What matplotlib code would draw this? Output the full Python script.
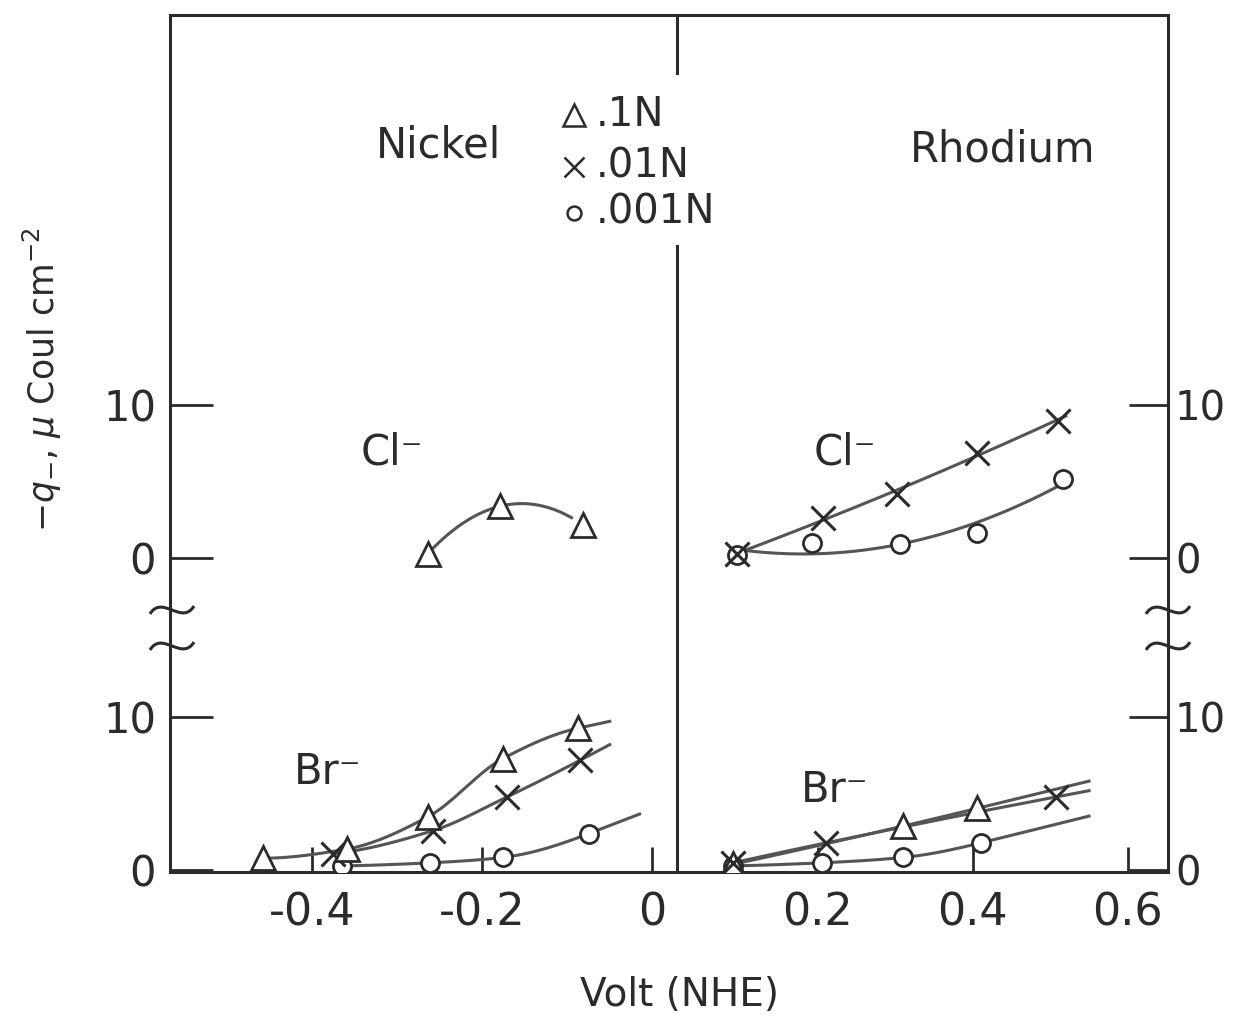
import numpy as np
import matplotlib.pyplot as plt
from matplotlib.path import Path
from matplotlib.patches import PathPatch
from matplotlib.transforms import IdentityTransform

# ---- data (q in micro Coul / cm2, V vs NHE) ----
# Nickel, Cl-  (only 0.1 N)
ni_cl_tri_v = [-0.264, -0.179, -0.082]
ni_cl_tri_q = [0.3, 3.4, 2.2]

# Nickel, Br-
ni_br_tri_v = [-0.458, -0.359, -0.264, -0.176, -0.087]
ni_br_tri_q = [0.8, 1.4, 3.5, 7.3, 9.3]
ni_br_x_v = [-0.375, -0.258, -0.171, -0.085]
ni_br_x_q = [1.1, 2.6, 4.8, 7.2]
ni_br_o_v = [-0.365, -0.261, -0.176, -0.075]
ni_br_o_q = [0.3, 0.5, 0.85, 2.4]

# Rhodium, Cl-
rh_cl_x_v = [0.095, 0.206, 0.302, 0.405, 0.51]
rh_cl_x_q = [0.3, 2.6, 4.2, 6.9, 9.0]
rh_cl_o_v = [0.095, 0.192, 0.306, 0.405, 0.516]
rh_cl_o_q = [0.2, 1.0, 0.95, 1.65, 5.2]

# Rhodium, Br-
rh_br_tri_v = [0.09, 0.31, 0.405]
rh_br_tri_q = [0.4, 2.9, 4.05]
rh_br_x_v = [0.09, 0.21, 0.507]
rh_br_x_q = [0.5, 1.8, 4.8]
rh_br_o_v = [0.09, 0.205, 0.31, 0.41]
rh_br_o_q = [0.3, 0.5, 0.85, 1.8]

CL_OFFSET = 20.4   # Cl- block is stacked above the Br- block
INK = "#2b2b2b"
LINE = "#555555"
W, H = 1237, 1019

plt.rcParams['font.family'] = ['DejaVu Sans']

fig = plt.figure(figsize=(W / 100, H / 100), dpi=100)
axL = fig.add_axes([170 / W, 147 / H, 507 / W, 857 / H])
axR = fig.add_axes([677 / W, 147 / H, 491 / W, 857 / H])

axL.set_xlim(-0.567, 0.029)
axR.set_xlim(0.018, 0.652)
for ax in (axL, axR):
    ax.set_ylim(-0.1, 55.9)
    ax.set_facecolor("none")
    for sp in ax.spines.values():
        sp.set_color(INK)
        sp.set_linewidth(2.2)
axR.spines['left'].set_visible(False)


def pchip(v, q, lo, hi):
    # monotone cubic through the points, straight on past the ends
    x = np.asarray(v, float)
    y = np.asarray(q, float)
    h = np.diff(x)
    d = np.diff(y) / h
    n = len(x)
    m = np.zeros(n)
    if n == 2:
        m[:] = d[0]
    else:
        for k in range(1, n - 1):
            if d[k - 1] * d[k] > 0:
                w1 = 2 * h[k] + h[k - 1]
                w2 = h[k] + 2 * h[k - 1]
                m[k] = (w1 + w2) / (w1 / d[k - 1] + w2 / d[k])
        m[0] = ((2 * h[0] + h[1]) * d[0] - h[0] * d[1]) / (h[0] + h[1])
        if m[0] * d[0] <= 0:
            m[0] = 0
        m[-1] = ((2 * h[-1] + h[-2]) * d[-1] - h[-1] * d[-2]) / (h[-1] + h[-2])
        if m[-1] * d[-1] <= 0:
            m[-1] = 0
    xs = np.linspace(lo, hi, 200)
    ys = np.empty_like(xs)
    for i, xv in enumerate(xs):
        if xv <= x[0]:
            ys[i] = y[0] + m[0] * (xv - x[0])
        elif xv >= x[-1]:
            ys[i] = y[-1] + m[-1] * (xv - x[-1])
        else:
            k = np.searchsorted(x, xv) - 1
            t = (xv - x[k]) / h[k]
            ys[i] = ((2 * t**3 - 3 * t**2 + 1) * y[k] + (t**3 - 2 * t**2 + t) * h[k] * m[k]
                     + (-2 * t**3 + 3 * t**2) * y[k + 1] + (t**3 - t**2) * h[k] * m[k + 1])
    return xs, ys


def curve(ax, v, q, lo, hi, deg=None, off=0.0):
    if deg is None:
        xs, ys = pchip(v, q, lo, hi)
    else:
        xs = np.linspace(lo, hi, 200)
        ys = np.polyval(np.polyfit(v, q, deg), xs)
    ax.plot(xs, ys + off, color=LINE, lw=2.2, zorder=2)


def marks(ax, v, q, kind, off=0.0):
    q = np.asarray(q) + off
    if kind == "tri":
        ax.plot(v, q, ls="none", marker="^", ms=17, mfc="white", mec=INK, mew=2, zorder=3)
    elif kind == "x":
        ax.plot(v, q, ls="none", marker="x", ms=17, mec=INK, mew=2.2, zorder=3)
    else:
        ax.plot(v, q, ls="none", marker="o", ms=13, mfc="white", mec=INK, mew=2, zorder=3)


# Nickel
curve(axL, ni_cl_tri_v, ni_cl_tri_q, -0.264, -0.095, 2, CL_OFFSET)
marks(axL, ni_cl_tri_v, ni_cl_tri_q, "tri", CL_OFFSET)
curve(axL, ni_br_tri_v, ni_br_tri_q, -0.458, -0.05)
curve(axL, ni_br_x_v, ni_br_x_q, -0.375, -0.05)
curve(axL, ni_br_o_v, ni_br_o_q, -0.365, -0.015)
marks(axL, ni_br_o_v, ni_br_o_q, "o")
marks(axL, ni_br_x_v, ni_br_x_q, "x")
marks(axL, ni_br_tri_v, ni_br_tri_q, "tri")

# Rhodium
curve(axR, rh_cl_x_v, rh_cl_x_q, 0.095, 0.52, 2, CL_OFFSET)
curve(axR, rh_cl_o_v, rh_cl_o_q, 0.095, 0.516, 2, CL_OFFSET)
marks(axR, rh_cl_o_v, rh_cl_o_q, "o", CL_OFFSET)
marks(axR, rh_cl_x_v, rh_cl_x_q, "x", CL_OFFSET)
curve(axR, rh_br_tri_v, rh_br_tri_q, 0.09, 0.55)
curve(axR, rh_br_x_v, rh_br_x_q, 0.09, 0.55)
curve(axR, rh_br_o_v, rh_br_o_q, 0.09, 0.55)
marks(axR, rh_br_o_v, rh_br_o_q, "o")
marks(axR, rh_br_tri_v, rh_br_tri_q, "tri")
marks(axR, rh_br_x_v, rh_br_x_q, "x")

# ticks
yt = [0, 10, CL_OFFSET, CL_OFFSET + 10]
ytl = ["0", "10", "0", "10"]
axL.set_yticks(yt)
axL.set_yticklabels(ytl)
axL.tick_params(axis="y", direction="in", length=31, width=2, color=INK,
                labelsize=30, labelcolor=INK, pad=10)
axR.set_yticks(yt)
axR.set_yticklabels(ytl)
axR.yaxis.tick_right()
axR.tick_params(axis="y", direction="in", length=28, width=2, color=INK,
                labelsize=29, labelcolor=INK, pad=5, left=False)

axL.set_xticks([-0.4, -0.2, 0])
axL.set_xticklabels(["-0.4", "-0.2", "0"])
axR.set_xticks([0.2, 0.4, 0.6])
axR.set_xticklabels(["0.2", "0.4", "0.6"])
for ax in (axL, axR):
    ax.tick_params(axis="x", direction="in", length=18, width=2, color=INK,
                   labelsize=32, labelcolor=INK, pad=14)

# axis break marks on both frame edges
brk = [(-22, 4), (-10, -16), (10, 16), (22, -4)]
for px in (172, 1168):
    for py in (610, 646):
        verts = [(px + a, H - (py + b)) for a, b in brk]
        p = Path(verts, [Path.MOVETO, Path.CURVE4, Path.CURVE4, Path.CURVE4])
        fig.patches.append(PathPatch(p, transform=IdentityTransform(), fill=False,
                                     edgecolor=INK, lw=2.2, zorder=6))


def ftxt(px, py, s, size, **kw):
    fig.text(px / W, 1 - py / H, s, fontsize=size, color=INK, **kw)


# labels
ftxt(438, 145, "Nickel", 30, ha="center", va="center")
ftxt(1003, 150, "Rhodium", 30, ha="center", va="center")
ftxt(392, 452, "Cl\u207b", 30, ha="center", va="center")
ftxt(845, 452, "Cl\u207b", 30, ha="center", va="center")
ftxt(328, 772, "Br\u207b", 30, ha="center", va="center")
ftxt(835, 790, "Br\u207b", 30, ha="center", va="center")

# legend drawn by hand (it covers the divider line)
fig.patches.append(plt.Rectangle((550 / W, 1 - 245 / H), 195 / W, 170 / H,
                                 transform=fig.transFigure, facecolor="white",
                                 edgecolor="none", zorder=5))
leg_y = [115, 167, 213]
leg_m = ["^", "x", "o"]
leg_ms = [16, 15, 10]
leg_t = [".1N", ".01N", ".001N"]
for y, m, s, t in zip(leg_y, leg_m, leg_ms, leg_t):
    fig.lines.append(plt.Line2D([574 / W], [1 - y / H], marker=m, ms=s,
                                mfc="white", mec=INK, mew=1.8, ls="none",
                                transform=fig.transFigure, zorder=6))
    ftxt(596, y, t, 29, ha="left", va="center", zorder=6)

ftxt(680, 995, "Volt (NHE)", 28, ha="center", va="center")
ftxt(42, 380, r"$-q_{-}$, $\mu$ Coul cm$^{-2}$", 25, ha="center", va="center", rotation=90)

fig.savefig("out.png", dpi=100)
